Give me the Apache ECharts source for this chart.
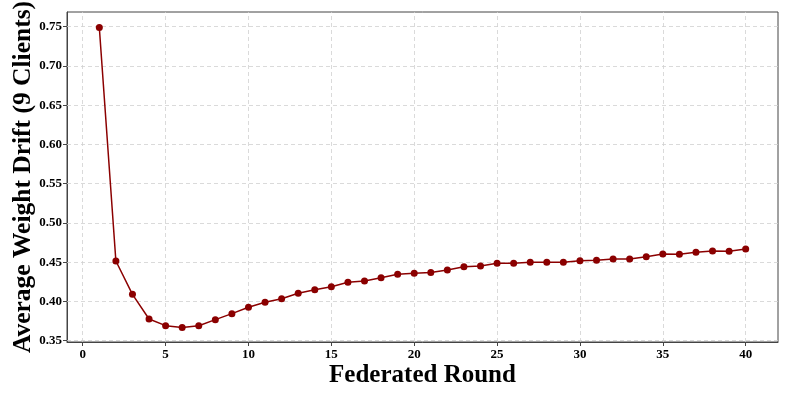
<!DOCTYPE html>
<html>
<head>
<meta charset="utf-8">
<script src="https://cdn.jsdelivr.net/npm/echarts@6/dist/echarts.min.js"></script>
<style>html,body{margin:0;padding:0;background:#fff;}#c{width:785px;height:394px;}</style>
</head>
<body>
<div id="c"></div>
<script>
var rounds = [1,2,3,4,5,6,7,8,9,10,11,12,13,14,15,16,17,18,19,20,21,22,23,24,25,26,27,28,29,30,31,32,33,34,35,36,37,38,39,40];
var drift = [0.749,0.4515,0.409,0.3776,0.3691,0.3668,0.3691,0.3768,0.3844,0.3926,0.3989,0.4035,0.4104,0.415,0.4188,0.4244,0.426,0.4302,0.4346,0.436,0.4367,0.440,0.4443,0.445,0.4486,0.4487,0.4499,0.4500,0.4499,0.4519,0.4523,0.4541,0.4541,0.457,0.4604,0.4602,0.4626,0.4643,0.4640,0.4668];
var xTicks = [0,5,10,15,20,25,30,35,40];
var yTicks = [0.35,0.40,0.45,0.50,0.55,0.60,0.65,0.70,0.75];

var serif = '"Liberation Serif","DejaVu Serif",serif';
var chart = echarts.init(document.getElementById('c'));
chart.setOption({
  animation: false,
  grid: {left: 67, top: 12, right: 7, bottom: 52, containLabel: false, outerBoundsMode: 'none', show: true, borderColor: '#444', borderWidth: 1, backgroundColor: 'transparent'},
  xAxis: {
    type: 'value', min: -0.95, max: 41.95,
    name: 'Federated Round', nameLocation: 'middle', nameGap: 21, nameMoveOverlap: false,
    nameTextStyle: {fontFamily: serif, fontWeight: 'bold', fontSize: 25, color: '#000'},
    axisLine: {show: true, onZero: false, lineStyle: {color: '#444', width: 1}},
    axisTick: {show: true, customValues: xTicks, length: 4, lineStyle: {color: '#444'}},
    axisLabel: {customValues: xTicks, fontFamily: serif, fontWeight: 'bold', fontSize: 13, color: '#000', margin: 6},
    splitLine: {show: false}
  },
  yAxis: {
    type: 'value', min: 0.3483, max: 0.7687,
    name: 'Average Weight Drift (9 Clients)', nameLocation: 'middle', nameGap: 31, nameMoveOverlap: false,
    nameTextStyle: {fontFamily: serif, fontWeight: 'bold', fontSize: 25.5, color: '#000'},
    axisLine: {show: true, onZero: false, lineStyle: {color: '#444', width: 1}},
    axisTick: {show: true, customValues: yTicks, length: 4, lineStyle: {color: '#444'}},
    axisLabel: {customValues: yTicks, fontFamily: serif, fontWeight: 'bold', fontSize: 13, color: '#000', margin: 5,
      formatter: function(v){return v.toFixed(2);}},
    splitLine: {show: false}
  },
  series: [
    {
      type: 'line',
      data: rounds.map(function(r,i){return [r, drift[i]];}),
      lineStyle: {color: '#8B0000', width: 1.5},
      itemStyle: {color: '#8B0000'},
      symbol: 'circle', symbolSize: 7, showSymbol: true,
      z: 5,
      markLine: {
        silent: true, symbol: 'none', label: {show: false}, animation: false,
        lineStyle: {type: [4, 3], color: '#d0d0d0', width: 0.8},
        data: xTicks.map(function(t){return {xAxis: t};}).concat(yTicks.map(function(t){return {yAxis: t};}))
      }
    }
  ]
});
</script>
</body>
</html>
